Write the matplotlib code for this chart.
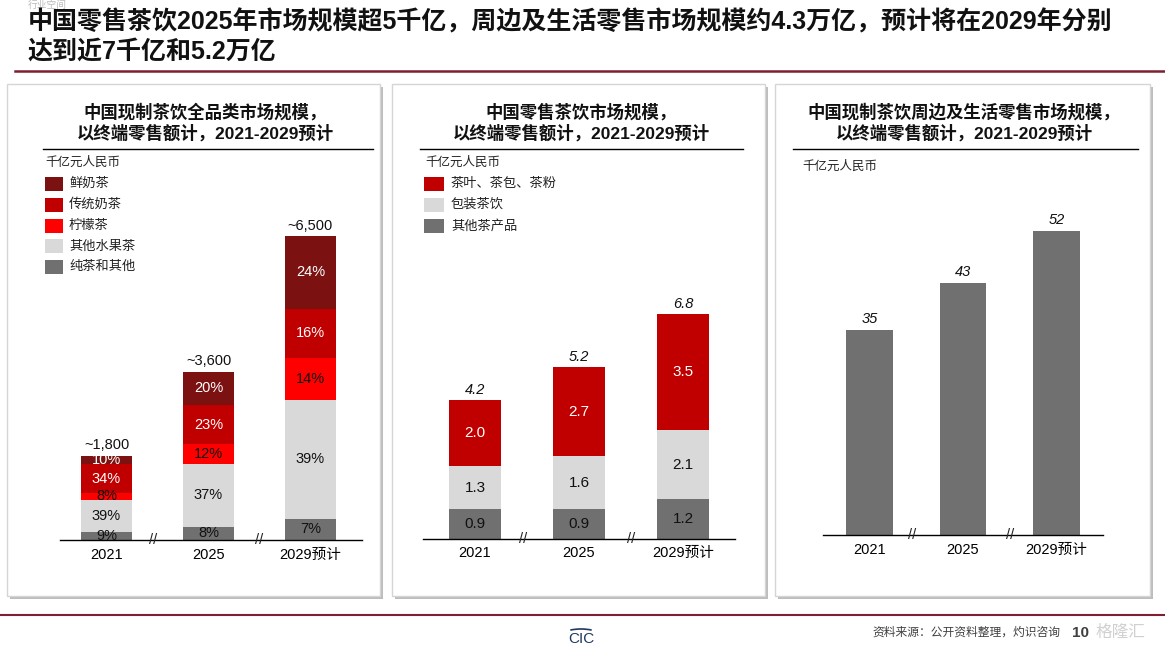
import matplotlib
matplotlib.use('Agg')
import matplotlib.pyplot as plt
from matplotlib.patches import Rectangle, Arc

plt.rcParams['font.family'] = ['Liberation Sans', 'Noto Sans CJK SC']

W, H = 1165, 646

years = ['2021', '2025', '2029预计']

# panel 1: 现制茶饮全品类, totals and shares (%)
p1_totals = [1800, 3600, 6500]
p1_total_labels = ['~1,800', '~3,600', '~6,500']
p1_cats = ['纯茶和其他', '其他水果茶', '柠檬茶', '传统奶茶', '鲜奶茶']
p1_shares = [
    [9, 8, 7],
    [39, 37, 39],
    [8, 12, 14],
    [34, 23, 16],
    [10, 20, 24],
]
p1_colors = ['#707070', '#D9D9D9', '#FF0000', '#C00000', '#7B1111']
p1_txt = ['#111111', '#111111', '#111111', 'white', 'white']

# panel 2: 零售茶饮
p2_cats = ['其他茶产品', '包装茶饮', '茶叶、茶包、茶粉']
p2_vals = [
    [0.9, 0.9, 1.2],
    [1.3, 1.6, 2.1],
    [2.0, 2.7, 3.5],
]
p2_totals = [4.2, 5.2, 6.8]
p2_colors = ['#707070', '#D9D9D9', '#C00000']
p2_txt = ['#111111', '#111111', 'white']

# panel 3: 周边及生活零售
p3_vals = [35, 43, 52]
p3_color = '#707070'

fig = plt.figure(figsize=(W / 100, H / 100), dpi=100)

bg = fig.add_axes([0, 0, 1, 1])
bg.set_xlim(0, W)
bg.set_ylim(H, 0)
bg.axis('off')

# header
bg.text(28, 5, '行业空间', fontsize=7, color='#BBBBBB', va='center')
bg.text(28, 22, '中国零售茶饮2025年市场规模超5千亿，周边及生活零售市场规模约4.3万亿，预计将在2029年分别',
        fontsize=18, fontweight='bold', va='center', color='#111111')
bg.text(28, 52, '达到近7千亿和5.2万亿', fontsize=18, fontweight='bold', va='center', color='#111111')
bg.plot([15, W], [71, 71], color='#7F1F2F', lw=1.8)
bg.plot([0, W], [615, 615], color='#7F1F2F', lw=1.5)

# footer
bg.text(1060, 633, '资料来源：公开资料整理，灼识咨询', fontsize=8.5, color='#404040', ha='right', va='center')
bg.text(1072, 633, '10', fontsize=11, fontweight='bold', color='#404040', va='center')
bg.text(1120, 632, '格隆汇', fontsize=12, color='#D0D0D0', ha='center', va='center')
bg.text(581, 639, 'CIC', fontsize=11, color='#1F3864', ha='center', va='center')
bg.add_patch(Arc((581, 634), 34, 10, theta1=200, theta2=340, color='#1F3864', lw=1.2))

# panel frames
panels = [(7, 84, 380, 596), (392, 84, 765, 596), (775, 84, 1150, 596)]
for x0, y0, x1, y1 in panels:
    bg.add_patch(Rectangle((x0 + 3, y0 + 3), x1 - x0, y1 - y0, fc='#BDBDBD', ec='none'))
    bg.add_patch(Rectangle((x0, y0), x1 - x0, y1 - y0, fc='white', ec='#D5D5D5', lw=1))

titles = [
    (205, '中国现制茶饮全品类市场规模，', 43, 373),
    (581, '中国零售茶饮市场规模，', 420, 743),
    (964, '中国现制茶饮周边及生活零售市场规模，', 793, 1138),
]
for cx, t1, lx0, lx1 in titles:
    bg.text(cx, 112, t1, fontsize=12.5, fontweight='bold', ha='center', va='center', color='#111111')
    bg.text(cx, 133, '以终端零售额计，2021-2029预计', fontsize=12.5, fontweight='bold',
            ha='center', va='center', color='#111111')
    bg.plot([lx0, lx1], [149, 149], color='black', lw=1)

for ux, uy in [(45, 163), (425, 163), (802, 167)]:
    bg.text(ux, uy, '千亿元人民币', fontsize=9, va='center', color='#222222', fontstyle='italic')

# legends
for i, (cat, col) in enumerate(zip(p1_cats[::-1], p1_colors[::-1])):
    yc = 184 + i * 20.8
    bg.add_patch(Rectangle((45, yc - 7), 18, 14, fc=col, ec='none', zorder=2))
    bg.text(69, yc, cat, fontsize=9.5, va='center', color='#222222', zorder=2)
for i, (cat, col) in enumerate(zip(p2_cats[::-1], p2_colors[::-1])):
    yc = 184 + i * 21
    bg.add_patch(Rectangle((424, yc - 7), 20, 14, fc=col, ec='none', zorder=2))
    bg.text(451, yc, cat, fontsize=9.5, va='center', color='#222222', zorder=2)


def chart_axes(left, right, top, bottom, xlim, ymax, pad):
    ax = fig.add_axes([left / W, 1 - bottom / H, (right - left) / W, (bottom - top) / H])
    ax.patch.set_alpha(0)
    ax.set_xlim(*xlim)
    ax.set_ylim(0, ymax)
    for s in ['top', 'right', 'left']:
        ax.spines[s].set_visible(False)
    ax.spines['bottom'].set_linewidth(1)
    ax.set_yticks([])
    ax.set_xticks(range(len(years)))
    ax.set_xticklabels(years, fontsize=10.5)
    ax.tick_params(axis='x', length=0, pad=pad)
    for bx in [0.46, 1.5]:
        ax.text(bx, 0, '//', ha='center', va='center', fontsize=10.5, color='#222222')
    return ax


x = range(len(years))

# panel 1
ax1 = chart_axes(60, 362, 200, 540, (-0.456, 2.505), 340 / 0.04677, 5.5)
bottom = [0, 0, 0]
for shares, col, tc in zip(p1_shares, p1_colors, p1_txt):
    h = [t * s / 100 for t, s in zip(p1_totals, shares)]
    ax1.bar(x, h, bottom=bottom, width=0.5, color=col)
    for i in x:
        ax1.text(i, bottom[i] + h[i] / 2, f'{shares[i]}%', ha='center', va='center',
                 fontsize=10.5, color=tc)
    bottom = [b + v for b, v in zip(bottom, h)]
for i in x:
    ax1.annotate(p1_total_labels[i], (i, p1_totals[i]), xytext=(0, 2.5), textcoords='offset points',
                 ha='center', va='bottom', fontsize=10.5, color='#111111')

# panel 2
ax2 = chart_axes(423, 735, 280, 539, (-0.5, 2.5), 259 / 33.1, 5)
bottom = [0, 0, 0]
for vals, col, tc in zip(p2_vals, p2_colors, p2_txt):
    ax2.bar(x, vals, bottom=bottom, width=0.5, color=col)
    for i in x:
        ax2.text(i, bottom[i] + vals[i] / 2, f'{vals[i]:.1f}', ha='center', va='center',
                 fontsize=11, color=tc)
    bottom = [b + v for b, v in zip(bottom, vals)]
for i in x:
    ax2.annotate(f'{p2_totals[i]:.1f}', (i, p2_totals[i]), xytext=(0, 2), textcoords='offset points',
                 ha='center', va='bottom', fontsize=10.5, fontstyle='italic', color='#111111')

# panel 3
ax3 = chart_axes(823, 1103, 200, 535, (-0.497, 2.497), 335 / 5.85, 6)
ax3.bar(x, p3_vals, width=0.5, color=p3_color)
for i in x:
    ax3.annotate(str(p3_vals[i]), (i, p3_vals[i]), xytext=(0, 3), textcoords='offset points',
                 ha='center', va='bottom', fontsize=10.5, fontstyle='italic', color='#111111')

fig.savefig('out.png', dpi=100)
